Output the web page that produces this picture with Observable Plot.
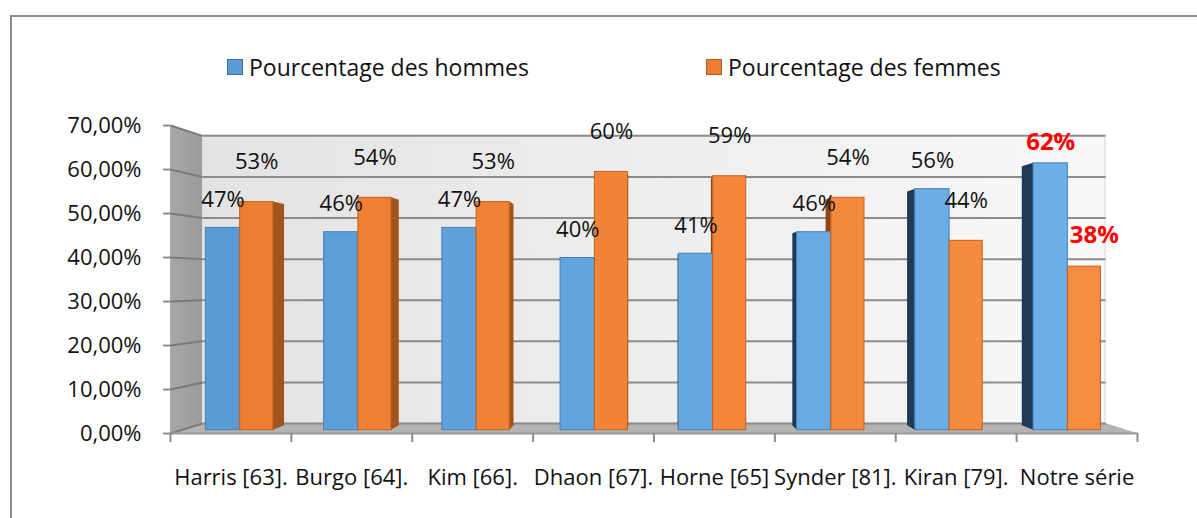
<!DOCTYPE html>
<html><head><meta charset="utf-8">
<script src="https://cdn.jsdelivr.net/npm/d3@7"></script>
<script src="https://cdn.jsdelivr.net/npm/@observablehq/plot@0.6"></script>
<style>
html,body{margin:0;padding:0;background:#fff;width:1197px;height:518px;overflow:hidden;font-family:"Open Sans",sans-serif;}
#frame{position:absolute;left:10px;top:15px;width:1400px;height:700px;border:2px solid #8c8c8c;box-sizing:border-box;}
#chart{position:absolute;left:0;top:0;}
.leg{position:absolute;top:52px;height:30px;display:flex;align-items:center;font-size:23px;color:#111;white-space:nowrap;}
.sw{width:14px;height:14px;margin-right:6px;border:1px solid;}
</style></head><body>
<div id="frame"></div>
<div id="legend"></div>
<div id="chart"></div>
<script>
// ---- data ----
const categories = ["Harris [63].", "Burgo [64].", "Kim [66].", "Dhaon [67].", "Horne [65]", "Synder [81].", "Kiran [79].", "Notre série"];
const hommes = [0.47, 0.46, 0.47, 0.40, 0.41, 0.46, 0.56, 0.62];
const femmes = [0.53, 0.54, 0.53, 0.60, 0.59, 0.54, 0.44, 0.38];
const seriesNames = ["Pourcentage des hommes", "Pourcentage des femmes"];
const yTicks = [0, 0.1, 0.2, 0.3, 0.4, 0.5, 0.6, 0.7];
const highlight = "Notre série";

// ---- styles ----
const frontColors = [["#5b9bd5", "#6cb0ea"], ["#ed7d31", "#f78d40"]];
const strokeColors = ["#4a7fb0", "#c0621f"];
const legendColors = ["#5b9bd5", "#ed7d31"];
const legendBorders = ["#41719c", "#ae5a21"];
const faceColors = [{left: "#1f3a56", right: "#3a6a98"}, {left: "#8e4618", right: "#a4531d"}];

// ---- legend ----
const legendLeft = [227, 706];
const legend = document.getElementById("legend");
seriesNames.forEach((n, k) => {
  const it = document.createElement("div");
  it.className = "leg"; it.style.left = legendLeft[k] + "px";
  it.innerHTML = `<span class="sw" style="background:${legendColors[k]};border-color:${legendBorders[k]}"></span><span>${n}</span>`;
  legend.appendChild(it);
});

// ---- simple 3D perspective (depth d: 0 front, 1 back wall) ----
const N = categories.length;
const VX = N / 2, VV = 0.344, K = 0.066;
const proj = (x, v, d) => { const s = 1 - K * d; return {x: VX + (x - VX) * s, v: VV + (v - VV) * s}; };
const D1 = 0.33, D2 = 0.77, YMAX = 0.7;
const slots = [{values: hommes, a: 0.21, b: 0.50}, {values: femmes, a: 0.50, b: 0.78}];

const bars = [];
slots.forEach((s, si) => categories.forEach((c, i) => {
  const v = s.values[i];
  const wx1 = i + s.a, wx2 = i + s.b;
  const p0 = proj(wx1, 0, D1), p1 = proj(wx2, v, D1);
  const rightSide = (wx1 + wx2) / 2 < VX;
  bars.push({cat: c, i, si, v, x1: p0.x, x2: p1.x, y1: p0.v, y2: p1.v, cx: (p0.x + p1.x) / 2,
    ex: rightSide ? wx2 : wx1,
    fill: d3.interpolateRgb(frontColors[si][0], frontColors[si][1])(i / (N - 1)),
    faceFill: rightSide ? faceColors[si].right : faceColors[si].left});
}));
const faces = bars.flatMap(b => [D1, D2].map(d => {
  const q0 = proj(b.ex, 0, d), q1 = proj(b.ex, b.v, d);
  return {id: b.si + "-" + b.i, x: q0.x, y1: q0.v, y2: q1.v, fill: b.faceFill};
}));

const wallBack = [proj(0, 0, 1), proj(N, YMAX, 1)];
const sideWall = [0, 1].map(d => ({x: proj(0, 0, d).x, y1: proj(0, 0, d).v, y2: proj(0, YMAX, d).v}));
const floor = [0, 1].map(d => ({y: proj(0, 0, d).v, x1: proj(0, 0, d).x, x2: proj(N, 0, d).x}));
const backGrid = yTicks.map(t => ({a: proj(0, t, 1), b: proj(N, t, 1)}));
const sideGrid = yTicks.map(t => ({a: proj(0, t, 0), b: proj(0, t, 1)}));

const locale = d3.formatLocale({decimal: ",", thousands: "\u00a0", grouping: [3], currency: ["", " €"], percent: "%"});
const fmtY = locale.format(".2%");
const fmtL = d3.format(".0%");
const font = "Open Sans";

const chart = Plot.plot({
  width: 1197, height: 518,
  marginLeft: 170, marginRight: 60, marginTop: 125, marginBottom: 85,
  x: {domain: [0, N]},
  y: {domain: [0, YMAX]},
  color: {type: "identity"},
  style: {fontFamily: font, fontSize: "22px", background: "transparent", overflow: "visible", color: "#111"},
  marks: [
    Plot.rect([0], {x1: () => wallBack[0].x, x2: () => wallBack[1].x, y1: () => wallBack[0].v, y2: () => wallBack[1].v, fill: "url(#wallGrad)", stroke: "#d4d4d4", strokeWidth: 1}),
    Plot.areaY(sideWall, {x: "x", y1: "y1", y2: "y2", fill: "url(#sideGrad)"}),
    Plot.areaX(floor, {y: "y", x1: "x1", x2: "x2", fill: "#b3b3b3"}),
    Plot.link(backGrid, {x1: d => d.a.x, y1: d => d.a.v, x2: d => d.b.x, y2: d => d.b.v, stroke: "#8c8c8c", strokeWidth: 2}),
    Plot.link(sideGrid, {x1: d => d.a.x, y1: d => d.a.v, x2: d => d.b.x, y2: d => d.b.v, stroke: "#7a7a7a", strokeWidth: 2}),
    Plot.link([0], {x1: 0, x2: N, y1: 0, y2: 0, stroke: "#9a9a9a", strokeWidth: 2}),
    Plot.areaY(faces, {x: "x", y1: "y1", y2: "y2", z: "id", fill: "fill"}),
    Plot.rect(bars, {x1: "x1", x2: "x2", y1: "y1", y2: "y2", fill: "fill", stroke: d => strokeColors[d.si], strokeWidth: 1}),
    Plot.axisY({ticks: yTicks, tickFormat: fmtY, tickSize: 7, tickPadding: 22, fontSize: 22, stroke: "#8c8c8c", fill: "#111", strokeWidth: 2}),
    Plot.axisX({ticks: d3.range(N + 1), tickFormat: () => "", tickSize: 9, stroke: "#8c8c8c", strokeWidth: 2}),
    Plot.axisX({ticks: d3.range(N).map(i => i + 0.5), tickFormat: d => categories[Math.floor(d)], tickSize: 0, tickPadding: 36, fontSize: 22, fill: "#111"}),
    Plot.text(bars.filter(b => b.si === 0 && b.cat !== highlight), {x: "cx", y: "y2", text: d => fmtL(d.v), dy: -28, fill: "#111", fontSize: 22}),
    Plot.text(bars.filter(b => b.si === 1 && b.cat !== highlight), {x: "cx", y: "y2", text: d => fmtL(d.v), dy: -40, fill: "#111", fontSize: 22}),
    Plot.text(bars.filter(b => b.si === 0 && b.cat === highlight), {x: "cx", y: "y2", text: d => fmtL(d.v), dy: -21, fill: "#ff0000", fontSize: 24, fontWeight: "bold"}),
    Plot.text(bars.filter(b => b.si === 1 && b.cat === highlight), {x: "cx", y: "y2", text: d => fmtL(d.v), dy: -31, dx: 10, fill: "#ff0000", fontSize: 24, fontWeight: "bold"})
  ]
});
const ns = "http://www.w3.org/2000/svg";
const defs = document.createElementNS(ns, "defs");
defs.innerHTML = '<linearGradient id="wallGrad" x1="0" x2="1" y1="0" y2="0"><stop offset="0" stop-color="#e3e3e3"/><stop offset="1" stop-color="#f8f8f8"/></linearGradient>' +
  '<linearGradient id="sideGrad" x1="0" x2="1" y1="0" y2="0"><stop offset="0" stop-color="#a8a8a8"/><stop offset="1" stop-color="#9a9a9a"/></linearGradient>';
chart.prepend(defs);
document.getElementById("chart").appendChild(chart);
</script>
</body></html>
